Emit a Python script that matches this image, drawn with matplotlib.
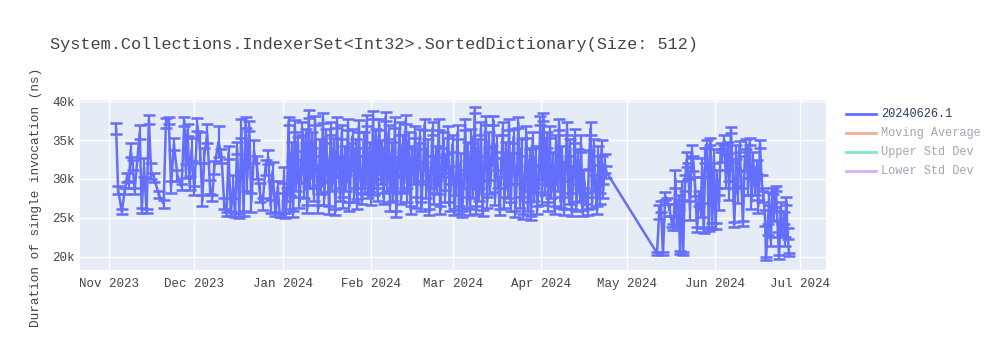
import matplotlib
matplotlib.use("Agg")
import matplotlib.pyplot as plt
import matplotlib.dates as mdates
from matplotlib.lines import Line2D
import numpy as np
import datetime as dt

# ---- data: (day offset from 2023-11-01, mean ns, error in hundreds of ns) ----
nov_dec = [
    (2.5, 36500, 7), (3.2, 28600, 5), (4.5, 25800, 3), (5.5, 28500, 4), (6.3, 30200, 6),
    (7.0, 29300, 5), (7.6, 33700, 9), (8.3, 31800, 7), (9.0, 28500, 4), (10.8, 36000, 9),
    (11.5, 26000, 3), (12.3, 31500, 12), (13.2, 25900, 3), (14.0, 37600, 6), (14.8, 31000, 10),
    (15.8, 30200, 6), (17.5, 28000, 5), (19.2, 26800, 5), (20.0, 37200, 6), (21.0, 37500, 5),
    (21.8, 29000, 8), (22.8, 34500, 8), (24.0, 30500, 7), (25.5, 29000, 4), (26.5, 37400, 6),
    (27.0, 31000, 9), (27.6, 36300, 8), (28.3, 29500, 9), (29.0, 33800, 15), (30.0, 28500, 6),
    (31.0, 37000, 8), (32.0, 34000, 20), (32.8, 27200, 7), (33.5, 33000, 10), (34.5, 35800, 12),
    (35.5, 29000, 9), (36.3, 27600, 4), (37.0, 31500, 8), (38.5, 34800, 20), (39.5, 33000, 9),
    (40.5, 26800, 7), (41.3, 25500, 3), (42.0, 33400, 8), (42.8, 25600, 3), (43.6, 29000, 15),
    (44.3, 25400, 3), (45.0, 34000, 8), (45.8, 25300, 3), (46.5, 36500, 12), (47.3, 25600, 3),
    (48.0, 37200, 7), (48.6, 30000, 15), (49.3, 36800, 7), (50.0, 27000, 12), (51.0, 33500, 15),
    (52.0, 31500, 15), (53.0, 28300, 12), (54.0, 26800, 8), (55.0, 31500, 10), (56.0, 32800, 9),
    (56.8, 26500, 8), (57.5, 31000, 12), (58.5, 25500, 3), (59.3, 29000, 8), (60.0, 25400, 3),
]
jan = [
    (61.0, 25400, 3), (61.5, 30500, 10), (62.0, 25300, 3), (62.6, 28000, 8), (63.1, 37400, 5),
    (63.6, 27000, 9), (64.2, 33500, 12), (64.7, 25500, 4), (65.3, 36800, 8), (65.8, 29500, 11),
    (66.4, 34500, 9), (66.9, 27000, 7), (67.5, 31000, 14), (68.0, 36500, 8), (68.6, 28500, 10),
    (69.1, 35500, 9), (69.7, 26200, 5), (70.2, 38300, 5), (70.8, 30000, 12), (71.3, 35000, 10),
    (71.9, 28000, 8), (72.4, 37500, 6), (73.0, 30500, 13), (73.5, 26200, 5), (74.1, 34000, 11),
    (74.6, 29000, 9), (75.2, 37800, 6), (75.7, 27500, 8), (76.3, 35500, 9), (76.8, 31000, 14),
    (77.4, 26000, 5), (77.9, 36500, 8), (78.5, 29500, 10), (79.0, 34000, 12), (79.6, 25800, 4),
    (80.1, 37200, 7), (80.7, 31500, 13), (81.2, 28000, 8), (81.8, 36000, 9), (82.3, 27000, 7),
    (82.9, 33000, 12), (83.4, 29500, 10), (84.0, 37000, 7), (84.5, 26500, 6), (85.1, 32500, 13),
    (85.6, 35500, 9), (86.2, 28000, 9), (86.7, 34000, 11), (87.3, 26800, 6), (87.8, 36800, 8),
    (88.4, 30000, 12), (88.9, 27500, 7), (89.5, 35000, 10), (90.0, 29000, 9), (90.6, 37500, 7),
    (91.1, 28500, 9), (91.7, 33500, 12),
]
feb = [
    (92.2, 27500, 8), (92.8, 38200, 5), (93.3, 29000, 10), (93.9, 35500, 9), (94.4, 28000, 8),
    (95.0, 37000, 7), (95.5, 30500, 12), (96.1, 34000, 10), (96.6, 27500, 7), (97.2, 38000, 6),
    (97.7, 29500, 11), (98.3, 36000, 9), (98.8, 26500, 6), (99.4, 33500, 12), (99.9, 28000, 8),
    (100.5, 37200, 7), (101.0, 25500, 4), (101.6, 31500, 13), (102.1, 36500, 8), (102.7, 27500, 7),
    (103.2, 34500, 11), (103.8, 29500, 10), (104.3, 37600, 6), (104.9, 28000, 9), (105.4, 35000, 10),
    (106.0, 26000, 5), (106.5, 33000, 12), (107.1, 30500, 11), (107.6, 36000, 8), (108.2, 27000, 7),
    (108.7, 32500, 13), (109.3, 35500, 9), (109.8, 26500, 6), (110.4, 31000, 12), (110.9, 37000, 7),
    (111.5, 28500, 9), (112.0, 34000, 11), (112.6, 25800, 4), (113.1, 30000, 12), (113.7, 36500, 8),
    (114.2, 27500, 7), (114.8, 33000, 12), (115.3, 29000, 9), (115.9, 37000, 7), (116.4, 26000, 5),
    (117.0, 31500, 13), (117.5, 35000, 10), (118.1, 27800, 8), (118.6, 32000, 12), (119.2, 36000, 8),
    (119.7, 26500, 6), (120.3, 30500, 12),
]
mar = [
    (120.8, 34500, 11), (121.4, 25800, 4), (121.9, 29000, 10), (122.5, 36000, 9), (123.0, 26000, 5),
    (123.6, 32000, 13), (124.1, 25500, 4), (124.7, 30000, 11), (125.2, 37000, 7), (125.8, 27000, 7),
    (126.3, 33500, 12), (126.9, 25800, 4), (127.4, 35500, 9), (128.0, 28500, 9), (128.5, 38800, 4),
    (129.1, 26000, 5), (129.6, 34000, 11), (130.2, 28000, 8), (130.7, 36500, 8), (131.3, 25600, 4),
    (131.8, 31000, 12), (132.4, 37500, 6), (132.9, 27000, 7), (133.5, 35000, 10), (134.0, 29000, 9),
    (134.6, 33000, 12), (135.1, 37500, 6), (135.7, 27500, 8), (136.2, 34500, 11), (136.8, 30000, 12),
    (137.3, 25800, 4), (137.9, 31500, 12), (138.4, 36500, 8), (139.0, 27000, 7), (139.5, 33500, 12),
    (140.1, 28500, 9), (140.6, 37000, 7), (141.2, 26500, 6), (141.7, 32000, 13), (142.3, 35500, 9),
    (142.8, 25500, 4), (143.4, 30500, 12), (143.9, 37200, 7), (144.5, 27000, 7), (145.0, 34000, 11),
    (145.6, 25200, 3), (146.1, 29500, 10), (146.7, 36000, 8), (147.2, 26500, 6), (147.8, 32500, 13),
    (148.3, 25000, 3), (148.9, 35000, 10), (149.4, 28000, 8), (150.0, 33000, 12), (150.5, 26000, 5),
    (151.1, 30500, 12),
]
apr = [
    (151.6, 37500, 6), (152.2, 27500, 8), (152.7, 38000, 5), (153.3, 29000, 10), (153.8, 35000, 10),
    (154.4, 26500, 6), (154.9, 36000, 8), (155.5, 28500, 9), (156.0, 32000, 13), (156.6, 26000, 5),
    (157.1, 34500, 11), (157.7, 29500, 10), (158.2, 37000, 7), (158.8, 27000, 7), (159.3, 33000, 12),
    (159.9, 25800, 4), (160.4, 31000, 12), (161.0, 36500, 8), (161.5, 27500, 7), (162.1, 34000, 11),
    (162.6, 25700, 4), (163.2, 30500, 12), (163.7, 35500, 9), (164.3, 26500, 6), (164.8, 32500, 13),
    (165.4, 28000, 8), (165.9, 34500, 11), (166.5, 25600, 4), (167.0, 30000, 11), (167.6, 27500, 7),
    (168.2, 25800, 4), (168.7, 32500, 12), (169.3, 36500, 8), (169.8, 27000, 7), (170.4, 34000, 11),
    (170.9, 29500, 10), (171.5, 26000, 5), (172.0, 33000, 12), (172.6, 27500, 7), (173.1, 34000, 10),
    (173.7, 28500, 9), (174.3, 32000, 12), (174.8, 30900, 8),
]
may_jun = [
    (192.6, 20500, 2), (193.4, 25800, 9), (194.0, 26500, 7), (194.7, 20400, 2), (195.5, 27800, 5),
    (196.2, 27200, 4), (197.0, 26000, 8), (197.8, 24500, 7), (198.4, 23800, 4), (199.1, 30000, 12),
    (199.6, 23800, 4), (200.2, 27000, 10), (200.7, 20600, 2), (201.3, 28500, 12), (201.8, 20500, 2),
    (202.4, 29500, 10), (203.0, 32500, 9), (203.6, 31000, 10), (204.2, 26000, 12), (204.8, 33500, 8),
    (205.4, 32000, 10), (206.0, 29000, 12), (206.7, 23500, 3), (207.3, 27500, 10), (207.9, 26000, 9),
    (208.5, 31500, 12), (209.0, 23400, 3), (209.6, 33000, 10), (210.2, 34500, 5), (210.8, 23600, 3),
    (211.4, 34800, 4), (212.0, 24000, 4), (212.6, 33000, 9), (213.2, 24000, 4), (213.8, 30000, 12),
    (214.4, 27000, 10), (215.0, 34000, 6), (215.6, 33000, 8), (216.2, 35000, 6), (216.8, 30000, 11),
    (217.4, 34000, 7), (218.0, 28500, 12), (218.6, 36300, 4), (219.2, 31000, 12), (219.8, 24200, 3),
    (220.4, 33500, 9), (221.0, 28000, 11), (221.6, 34200, 7), (222.2, 30000, 12), (222.8, 24300, 3),
    (223.4, 32000, 10), (224.0, 34500, 6), (224.6, 29000, 11), (225.2, 34800, 5), (225.8, 27000, 9),
    (226.4, 32500, 10), (227.0, 29000, 11), (227.6, 31500, 9), (228.2, 26500, 8), (228.8, 34500, 5),
    (229.4, 29500, 10), (230.0, 28000, 9), (230.6, 25000, 10), (230.9, 19800, 2), (231.5, 23500, 7),
    (232.0, 27500, 8), (232.6, 22000, 6), (233.2, 28500, 4), (233.8, 25500, 9), (234.4, 28800, 3),
    (235.0, 24000, 8), (235.5, 20000, 2), (236.1, 26500, 6), (236.6, 23500, 7), (237.2, 25000, 8),
    (237.6, 22000, 6), (238.0, 27200, 5), (238.5, 23000, 7), (239.0, 20300, 2),
]

base_date = dt.datetime(2023, 11, 1)
title = "System.Collections.IndexerSet<Int32>.SortedDictionary(Size: 512)"
ylabel = "Duration of single invocation (ns)"
series_name = "20240626.1"
hidden_names = ["Moving Average", "Upper Std Dev", "Lower Std Dev"]
hidden_colors = ["#EF553B", "#00CC96", "#AB63FA"]
yticks = [20000, 25000, 30000, 35000, 40000]
ytick_labels = ["20k", "25k", "30k", "35k", "40k"]

rows = nov_dec + jan + feb + mar + apr + may_jun
dates = [base_date + dt.timedelta(days=r[0]) for r in rows]
vals = np.array([r[1] for r in rows], dtype=float)
errs = np.array([r[2] for r in rows], dtype=float) * 100

plt.rcParams['font.family'] = ['Liberation Mono', 'DejaVu Sans Mono']
W, H = 1000, 350
fig = plt.figure(figsize=(10, 3.5), dpi=100)
ax = fig.add_axes([80 / W, (H - 270) / H, 746 / W, 170 / H])
ax.set_facecolor("#E5ECF6")
for s in ax.spines.values():
    s.set_visible(False)

line_color = "#636EFA"
ax.errorbar(dates, vals, yerr=errs, color=line_color, lw=1.8, elinewidth=1.6,
            capsize=4, capthick=1.8, zorder=3)

ax.set_ylim(18330, 40130)
ax.set_xlim(base_date - dt.timedelta(days=10.2), base_date + dt.timedelta(days=252.0))
ax.set_yticks(yticks)
ax.set_yticklabels(ytick_labels)
ax.xaxis.set_major_locator(mdates.MonthLocator())
ax.xaxis.set_major_formatter(mdates.DateFormatter("%b %Y"))
ax.grid(True, color="white", lw=1)
ax.set_axisbelow(True)
ax.tick_params(length=0, labelsize=9, colors="#444444", pad=4)
ax.tick_params(axis='x', pad=6)

fig.text(50 / W, (H - 45) / H, title, fontsize=12.2, color="#444444", va="center", ha="left")
fig.text(36 / W, (H - 197) / H, ylabel, fontsize=9.2, color="#444444",
         rotation=90, va="center", ha="center")

# legend drawn by hand (plotly style, hidden traces greyed out)
leg_names = [series_name] + hidden_names
leg_colors = [line_color] + hidden_colors
leg_alpha = [1.0, 0.5, 0.5, 0.5]
leg_text_colors = ["#2A3F5F", "#A0A6B4", "#A0A6B4", "#A0A6B4"]
for i, (name, c, a, tc) in enumerate(zip(leg_names, leg_colors, leg_alpha, leg_text_colors)):
    yy = (H - (114 + 19 * i)) / H
    fig.add_artist(Line2D([846 / W, 876 / W], [yy, yy], color=c, lw=2, alpha=a,
                          transform=fig.transFigure))
    fig.text(881 / W, yy, name, fontsize=8.6, color=tc, va="center", ha="left")

fig.savefig("out.png", dpi=100)
